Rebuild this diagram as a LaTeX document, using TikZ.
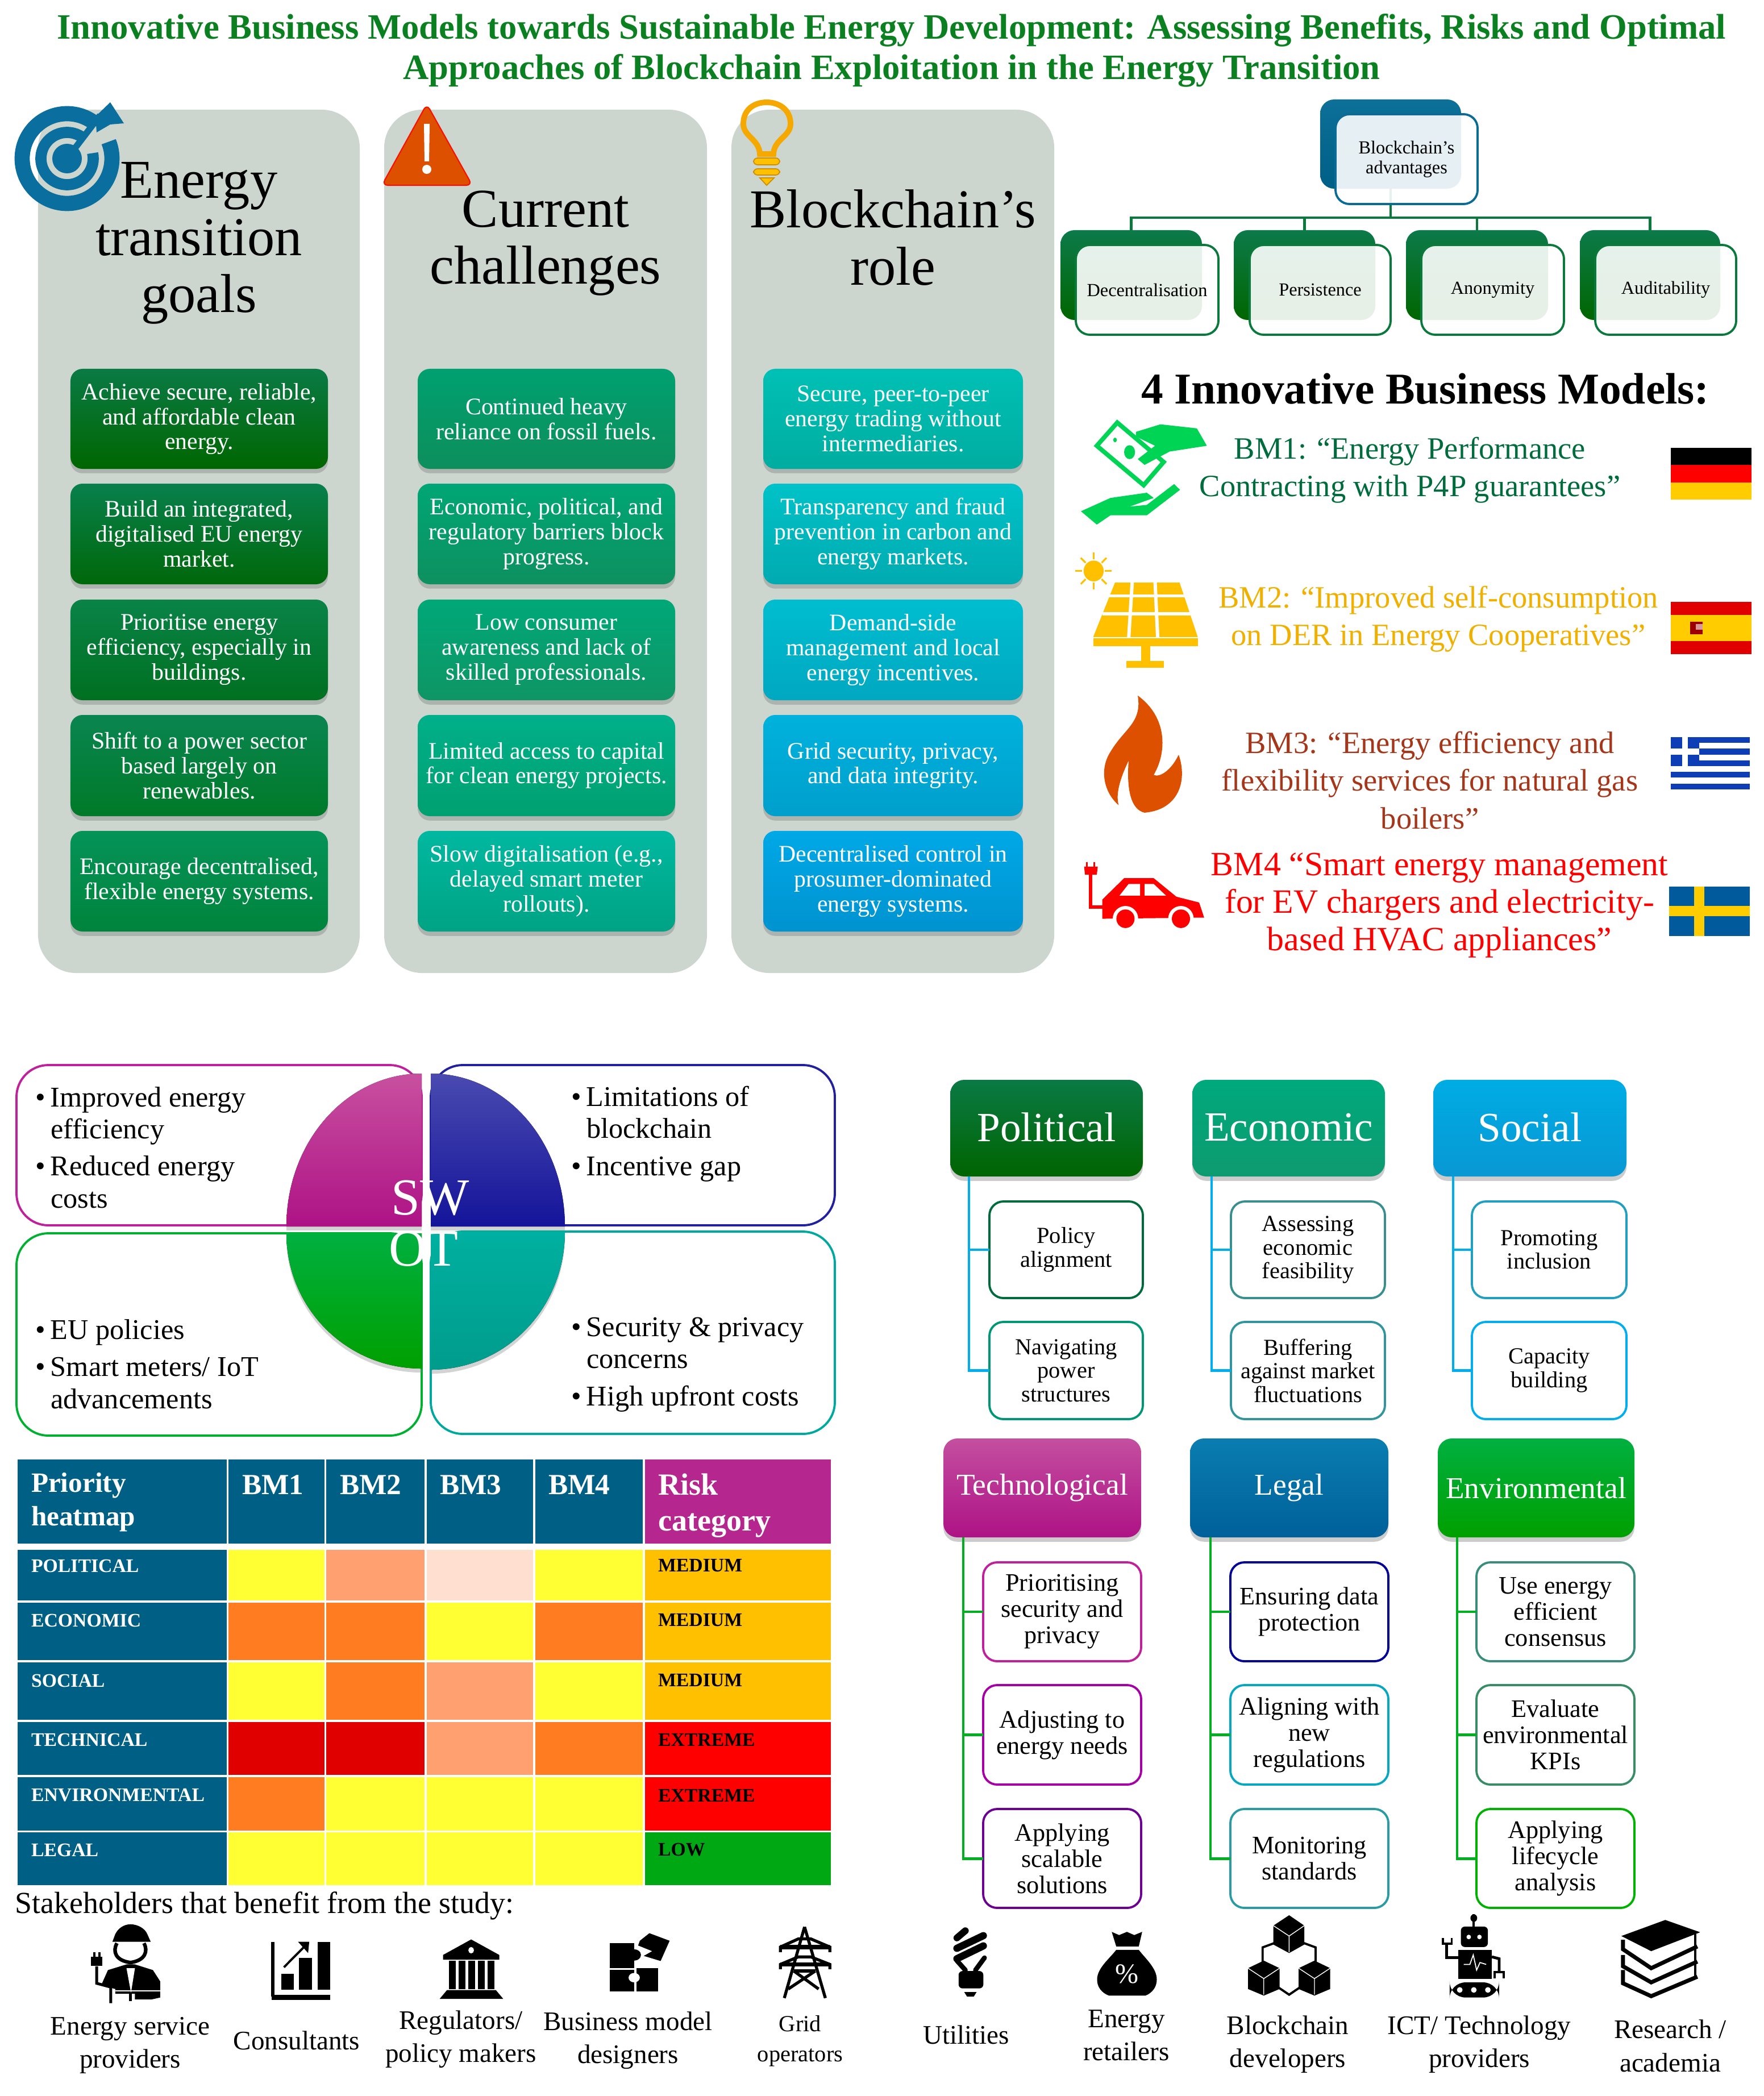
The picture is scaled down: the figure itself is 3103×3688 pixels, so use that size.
\documentclass[tikz,border=0pt]{standalone}
\usepackage{fontspec}
\setmainfont{Liberation Serif}
\usetikzlibrary{shadows,calc}
\newcommand\fs[2]{\fontsize{#1}{#2}\selectfont}
\newcommand\bx[7]{\pgfmathsetmacro\cxa{(#2+#4)/2}\pgfmathsetmacro\cya{(#3+#5)/2}\pgfmathsetmacro\wa{(#4-#2)*0.01}\pgfmathsetmacro\ha{(#5-#3)*0.01}\node[#6,minimum width=\wa cm,minimum height=\ha cm] (#1) at (\cxa,\cya) {#7};}
\newcommand\gbx[9]{\definecolor{gt}{HTML}{#7}\definecolor{gb}{HTML}{#8}\bx{#1}{#2}{#3}{#4}{#5}{#6,top color=gt,bottom color=gb}{#9}}
\definecolor{panel}{HTML}{CCD5CE}
\definecolor{titleg}{HTML}{0A8020}
\definecolor{hblue}{HTML}{005F85}
\definecolor{hmag}{HTML}{B5268F}
\definecolor{cyel}{HTML}{FFFF33}
\definecolor{clor}{HTML}{FFA070}
\definecolor{cpal}{HTML}{FFE0D0}
\definecolor{cor}{HTML}{FF7D20}
\definecolor{cdred}{HTML}{E00000}
\definecolor{cred}{HTML}{FF0000}
\definecolor{camb}{HTML}{FFC000}
\definecolor{cgrn}{HTML}{00A813}
\definecolor{ringb}{HTML}{0A6E9E}
\definecolor{warn}{HTML}{DD5000}
\definecolor{bulbc}{HTML}{F5A800}
\definecolor{mong}{HTML}{00D455}
\definecolor{bmone}{HTML}{006B3C}
\definecolor{bmtwo}{HTML}{F0B000}
\definecolor{bmthree}{HTML}{A5361A}
\definecolor{deyel}{HTML}{FFCC00}
\definecolor{seblue}{HTML}{005A9C}
\definecolor{grblue}{HTML}{0D3EB5}
\definecolor{conblue}{HTML}{00AEEF}
\definecolor{congreen}{HTML}{00B020}
\definecolor{orgg}{HTML}{0A7A3C}
\definecolor{orgb}{HTML}{0A6C96}
\definecolor{swt}{HTML}{00A99D}
\definecolor{swo}{HTML}{00B030}
\definecolor{sws}{HTML}{C0209A}
\definecolor{swoW}{HTML}{2020A0}
\tikzset{
  tile/.style={rounded corners=6pt,inner sep=2pt,outer sep=0pt,align=center,text=white,font=\fs{11.9}{12.5},
    drop shadow={shadow xshift=0pt,shadow yshift=-2.2pt,opacity=.4}},
  txt/.style={inner sep=0pt,outer sep=0pt,align=center},
  panelbox/.style={fill=panel,rounded corners=19pt,inner sep=0pt},
  heading/.style={txt,font=\fs{27.4}{28.6}},
  backbox/.style={rounded corners=7pt,inner sep=0pt,outer sep=0pt},
  frontbox/.style={rounded corners=7pt,inner sep=0pt,outer sep=0pt,draw,line width=1.1pt,fill=white,fill opacity=.9,text opacity=1,align=center,font=\fs{9.2}{10}},
  orgline/.style={draw=orgg,line width=1.4pt},
  bmtext/.style={txt,font=\fs{15.5}{18.8}},
  swotbox/.style={rounded corners=16pt,draw,line width=1.1pt,inner sep=0pt},
  swottext/.style={txt,align=left,font=\fs{14.3}{16}},
  swotletter/.style={txt,text=white,font=\fs{26}{26}},
  swotq/.style={drop shadow={shadow xshift=0pt,shadow yshift=-2pt,opacity=.35}},
  cell/.style={inner sep=0pt,outer sep=0pt},
  hhead/.style={txt,align=left,text=white,font=\bfseries\fs{14}{16.7}},
  hbm/.style={txt,anchor=west,text=white,font=\bfseries\fs{14.6}{16.7}},
  hrowtext/.style={txt,anchor=west,font=\bfseries\fs{9.6}{11}},
  head/.style={rounded corners=7pt,inner sep=0pt,outer sep=0pt,align=center,text=white,
    drop shadow={shadow xshift=0pt,shadow yshift=-2.2pt,opacity=.4}},
  headtop/.style={head,font=\fs{20.8}{22}},
  headbot/.style={head,font=\fs{15.2}{16}},
  sub/.style={rounded corners=7pt,draw,line width=1.1pt,fill=white,inner sep=0pt,outer sep=0pt,align=center},
  subtop/.style={sub,font=\fs{11.5}{11.8}},
  subbot/.style={sub,font=\fs{12.6}{13.1}},
  bluecon/.style={draw=conblue,line width=1.4pt},
  greencon/.style={draw=congreen,line width=1.4pt},
  stake/.style={txt,font=\fs{13.4}{16.6}},
  zb/.style={shift={(1850,150)},x=0.00799cm,y=-0.0102cm},
  zf/.style={shift={(0,3300)},x=0.00989cm,y=-0.00333cm},
  zs/.style={shift={(1550,3300)},x=0.0099cm,y=-0.00333cm},
}
\newcommand\hrow[9]{%
  \bx{#1a}{31}{#2}{399}{#3}{cell,fill=hblue}{}
  \bx{#1b}{402}{#2}{571}{#3}{cell,fill=#5}{}
  \bx{#1c}{574}{#2}{747}{#3}{cell,fill=#6}{}
  \bx{#1d}{751}{#2}{938}{#3}{cell,fill=#7}{}
  \bx{#1e}{942}{#2}{1131}{#3}{cell,fill=#8}{}
  \bx{#1f}{1135}{#2}{1462}{#3}{cell,fill=#9}{}
}
\begin{document}
\begin{tikzpicture}[x=0.01cm,y=-0.01cm]
\useasboundingbox (0,0) rectangle (3103,3688);
% title
\node[txt,text=titleg,font=\bfseries\fs{17.82}{20}] (title) at (1569,89) {Innovative Business Models towards Sustainable Energy Development: Assessing Benefits, Risks and Optimal\\Approaches of Blockchain Exploitation in the Energy Transition};
% panels
\bx{pa}{67}{193}{633}{1712}{panelbox}{}
\bx{pb}{676}{193}{1244}{1712}{panelbox}{}
\bx{pc}{1287}{193}{1855}{1712}{panelbox}{}
\node[heading] (ha) at (350,428) {Energy\\transition\\goals};
\node[heading] (hb) at (960,428) {Current\\challenges};
\node[heading] (hc) at (1571,418) {Blockchain’s\\role};
% target icon
\begin{scope}[shift={(118,279)},y=0.01cm]
\draw[ringb,line width=7.6pt] (52:79) arc[start angle=52,end angle=382,radius=79];
\draw[ringb,line width=5.6pt] (52:46) arc[start angle=52,end angle=372,radius=46];
\fill[ringb] (0,0) circle[radius=26];
\draw[ringb,line width=3.2pt] (0,0) -- (58,76);
\fill[ringb] (76,99) -- (100,62) -- (76,60) -- (52,46) -- (50,74) -- cycle;
\end{scope}
% warning icon
\fill[warn,draw=red!80!warn,line width=.6pt,rounded corners=3pt] (751,183) -- (831,326) -- (672,326) -- cycle;
\fill[white] (746,218) -- (756,218) -- (755,284) -- (747,284) -- cycle;
\fill[white] (751,298) circle[radius=8];
% bulb icon
\draw[bulbc,line width=2.8pt] (1337,271) .. controls (1336,245) and (1308,240) .. (1308,218) .. controls (1308,192) and (1328,180) .. (1349,180) .. controls (1370,180) and (1391,192) .. (1391,218) .. controls (1391,240) and (1362,245) .. (1361,271) -- cycle;
\fill[camb,draw=bulbc!85!black,line width=.5pt,rounded corners=2pt] (1326,278) rectangle (1372,290);
\fill[camb,draw=bulbc!85!black,line width=.5pt,rounded corners=2pt] (1326,297) rectangle (1372,308);
\fill[camb,draw=bulbc!85!black,line width=.5pt] (1337,313) -- (1362,313) -- (1349,326) -- cycle;
% column tiles
\gbx{a1}{124}{649}{577}{825}{tile}{0A7A45}{006600}{Achieve secure, reliable,\\and affordable clean\\energy.}
\gbx{a2}{124}{851}{577}{1028}{tile}{08804C}{00680A}{Build an integrated,\\digitalised EU energy\\market.}
\gbx{a3}{124}{1055}{577}{1232}{tile}{0A8348}{007020}{Prioritise energy\\efficiency, especially in\\buildings.}
\gbx{a4}{124}{1258}{577}{1436}{tile}{0A8550}{007A28}{Shift to a power sector\\based largely on\\renewables.}
\gbx{a5}{124}{1462}{577}{1639}{tile}{059358}{00843C}{Encourage decentralised,\\flexible energy systems.}
\gbx{b1}{735}{649}{1188}{825}{tile}{00A070}{0D8F5C}{Continued heavy\\reliance on fossil fuels.}
\gbx{b2}{735}{851}{1188}{1028}{tile}{00A675}{0E9060}{Economic, political, and\\regulatory barriers block\\progress.}
\gbx{b3}{735}{1055}{1188}{1232}{tile}{00A878}{0F9565}{Low consumer\\awareness and lack of\\skilled professionals.}
\gbx{b4}{735}{1258}{1188}{1436}{tile}{00B08A}{00A070}{Limited access to capital\\for clean energy projects.}
\gbx{b5}{735}{1462}{1188}{1639}{tile}{00B8A0}{00A384}{Slow digitalisation (e.g.,\\delayed smart meter\\rollouts).}
\gbx{c1}{1343}{649}{1800}{825}{tile}{00C0B5}{00ADA0}{Secure, peer-to-peer\\energy trading without\\intermediaries.}
\gbx{c2}{1343}{851}{1800}{1028}{tile}{00C2C8}{00ABB0}{Transparency and fraud\\prevention in carbon and\\energy markets.}
\gbx{c3}{1343}{1055}{1800}{1232}{tile}{00BDD0}{00A8C0}{Demand-side\\management and local\\energy incentives.}
\gbx{c4}{1343}{1258}{1800}{1436}{tile}{00B2DD}{009FCC}{Grid security, privacy,\\and data integrity.}
\gbx{c5}{1343}{1462}{1800}{1639}{tile}{00A8E6}{0093D0}{Decentralised control in\\prosumer-dominated\\energy systems.}
% org chart
\gbx{rootb}{2323}{175}{2571}{332}{backbox}{0C7098}{005F85}{}
\gbx{k1b}{1866}{405}{2115}{563}{backbox}{0C7A4A}{006600}{}
\gbx{k2b}{2171}{405}{2420}{563}{backbox}{0C7A4A}{006600}{}
\gbx{k3b}{2474}{405}{2724}{563}{backbox}{0C7A4A}{006600}{}
\gbx{k4b}{2780}{405}{3027}{563}{backbox}{0C7A4A}{006600}{}
\coordinate (bus) at (2447,383);
\draw[orgline] (rootb.south) -- (bus);
\draw[orgline] (bus) -| (k1b.north);
\draw[orgline] (bus) -| (k2b.north);
\draw[orgline] (bus) -| (k3b.north);
\draw[orgline] (bus) -| (k4b.north);
\bx{root}{2350}{201}{2600}{359}{frontbox,draw=orgb}{Blockchain’s\\advantages}
\bx{k1}{1893}{431}{2144}{589}{frontbox,draw=orgg}{Decentralisation}
\bx{k2}{2199}{431}{2447}{589}{frontbox,draw=orgg}{Persistence}
\bx{k3}{2501}{431}{2752}{589}{frontbox,draw=orgg}{Anonymity}
\bx{k4}{2807}{431}{3055}{589}{frontbox,draw=orgg}{Auditability}
% business models
\node[txt,font=\bfseries\fs{22}{24}] (bmtitle) at (2508,684) {4 Innovative Business Models:};
\node[bmtext,text=bmone] (bm1) at (2481,827) {BM1: “Energy Performance\\Contracting with P4P guarantees”};
\node[bmtext,text=bmtwo] (bm2) at (2531,1089) {BM2: “Improved self-consumption\\on DER in Energy Cooperatives”};
\node[bmtext,text=bmthree] (bm3) at (2516,1373) {BM3: “Energy efficiency and\\flexibility services for natural gas\\boilers”};
\node[bmtext,text=red,font=\fs{17}{18.8}] (bm4) at (2533,1593) {BM4 “Smart energy management\\for EV chargers and electricity-\\based HVAC appliances”};
% flags
\fill[black] (2940,788) rectangle (3082,818);
\fill[red] (2940,818) rectangle (3082,849);
\fill[deyel] (2940,849) rectangle (3082,879);
\fill[cdred] (2940,1059) rectangle (3082,1082);
\fill[deyel] (2940,1082) rectangle (3082,1128);
\fill[cdred] (2940,1128) rectangle (3082,1151);
\fill[cdred!70!black] (2974,1094) rectangle (2996,1116);
\fill[white,opacity=.6] (2984,1098) rectangle (2996,1108);
\fill[grblue] (2940,1297) rectangle (3079,1389);
\foreach \yy in {1307.2,1327.6,1348,1368.4} {\fill[white] (2940,\yy) rectangle (3079,\yy+10.2);}
\fill[grblue] (2940,1297) rectangle (2990,1348);
\fill[white] (2960,1297) rectangle (2970,1348);
\fill[white] (2940,1317) rectangle (2990,1328);
\fill[seblue] (2937,1560) rectangle (3079,1647);
\fill[deyel] (2981,1560) rectangle (2999,1647);
\fill[deyel] (2937,1594) rectangle (3079,1612);
% BM icons
\begin{scope}[zb]
\draw[mong,line width=2.2pt,line join=miter,fill=white] (100,622) -- (145,582) -- (247,650) -- (203,690) -- cycle;
\fill[mong] (172,633) circle[radius=12];
\fill[mong] (140,612) circle[radius=4];
\fill[mong] (186,598) -- (240,585) -- (320,592) -- (342,622) -- (260,632) -- (205,655) -- (190,645) -- (228,622) -- (186,606) -- cycle;
\fill[mong] (65,735) -- (130,712) -- (210,703) -- (225,712) -- (172,727) -- (210,724) -- (270,688) -- (283,698) -- (210,742) -- (130,742) -- (100,758) -- cycle;
% solar
\fill[camb] (93,838) circle[x radius=22,y radius=18];
\foreach \aa in {0,45,...,315} {\draw[camb,line width=.9pt] ($(93,838)+(\aa:25 and 20)$) -- ($(93,838)+(\aa:40 and 32)$);}
\fill[camb] (140,858) -- (282,858) -- (322,952) -- (92,952) -- cycle;
\foreach \xa/\xb in {178/170,228/234} {\draw[white,line width=1.7pt] (\xa,855) -- (\xb,955);}
\draw[white,line width=1.5pt] (125,881) -- (295,881);
\draw[white,line width=1.5pt] (112,912) -- (310,912);
\fill[camb] (92,954) rectangle (322,968);
\fill[camb] (197,968) rectangle (217,993);
\fill[camb] (165,993) rectangle (248,1005);
% flame
\fill[warn] (190,1053) .. controls (255,1090) and (255,1150) .. (225,1190) .. controls (240,1195) and (265,1180) .. (280,1155) .. controls (300,1200) and (280,1250) .. (205,1255) .. controls (175,1250) and (165,1215) .. (170,1165) .. controls (155,1190) and (140,1220) .. (148,1242) .. controls (115,1220) and (105,1180) .. (130,1150) .. controls (160,1110) and (200,1100) .. (190,1053) -- cycle;
% car
\fill[red] (112,1405) -- (160,1368) -- (225,1368) -- (275,1400) -- (325,1410) -- (336,1436) -- (112,1438) -- cycle;
\fill[white] (150,1398) -- (170,1378) -- (195,1378) -- (195,1398) -- cycle;
\fill[white] (205,1378) -- (225,1378) -- (252,1398) -- (205,1398) -- cycle;
\fill[white] (163,1438) circle[x radius=28,y radius=22];
\fill[white] (285,1438) circle[x radius=28,y radius=22];
\fill[red] (163,1438) circle[x radius=20,y radius=16];
\fill[red] (285,1438) circle[x radius=20,y radius=16];
\draw[red,line width=1.7pt] (86,1362) -- (86,1418) -- (115,1418);
\fill[red] (72,1348) -- (102,1348) -- (100,1362) -- (74,1362) -- cycle;
\draw[red,line width=.9pt] (78,1340) -- (78,1350);
\draw[red,line width=.9pt] (94,1340) -- (94,1350);
\end{scope}
% SWOT
\bx{sbx}{29}{1874}{742}{2156}{swotbox,draw=sws}{}
\bx{wbx}{758}{1874}{1469}{2156}{swotbox,draw=swoW}{}
\bx{obx}{29}{2170}{742}{2526}{swotbox,draw=swo}{}
\bx{tbx}{758}{2167}{1469}{2523}{swotbox,draw=swt}{}
\definecolor{qa}{HTML}{C850A0}\definecolor{qb}{HTML}{AE1285}
\fill[swotq,top color=qa,bottom color=qb] (742,2158) -- (742,1889) .. controls (610,1889) and (504,2009) .. (504,2158) -- cycle;
\definecolor{qa}{HTML}{4A4AB0}\definecolor{qb}{HTML}{14149A}
\fill[swotq,top color=qa,bottom color=qb] (758,2158) -- (758,1889) .. controls (890,1889) and (994,2009) .. (994,2158) -- cycle;
\definecolor{qa}{HTML}{00B040}\definecolor{qb}{HTML}{00A000}
\fill[swotq,top color=qa,bottom color=qb] (742,2170) -- (742,2408) .. controls (610,2408) and (504,2302) .. (504,2170) -- cycle;
\definecolor{qa}{HTML}{00B0A0}\definecolor{qb}{HTML}{009C8C}
\fill[swotq,top color=qa,bottom color=qb] (758,2167) -- (758,2410) .. controls (890,2410) and (994,2302) .. (994,2167) -- cycle;
\node[swotletter] (sw) at (757,2108) {SW};
\node[swotletter] (ot) at (745,2198) {OT};
\node[swottext,anchor=west] (slist) at (89,2019) {\llap{•\hspace{2.5pt}}Improved energy\\efficiency\\[2.6pt]\llap{•\hspace{2.5pt}}Reduced energy\\costs};
\node[swottext,anchor=west] (wlist) at (1032,1995) {\llap{•\hspace{2.5pt}}Limitations of\\blockchain\\[2.6pt]\llap{•\hspace{2.5pt}}Incentive gap};
\node[swottext,anchor=west] (olist) at (89,2400) {\llap{•\hspace{2.5pt}}EU policies\\[2.6pt]\llap{•\hspace{2.5pt}}Smart meters/ IoT\\advancements};
\node[swottext,anchor=west] (tlist) at (1032,2401) {\llap{•\hspace{2.5pt}}Security \& privacy\\concerns\\[2.6pt]\llap{•\hspace{2.5pt}}High upfront costs};
% heat map
\bx{h1}{31}{2568}{399}{2716}{cell,fill=hblue}{}
\bx{h2}{402}{2568}{571}{2716}{cell,fill=hblue}{}
\bx{h3}{574}{2568}{747}{2716}{cell,fill=hblue}{}
\bx{h4}{751}{2568}{938}{2716}{cell,fill=hblue}{}
\bx{h5}{942}{2568}{1131}{2716}{cell,fill=hblue}{}
\bx{h6}{1135}{2568}{1462}{2716}{cell,fill=hmag}{}
\node[hhead,anchor=west] (th1) at (55,2643) {Priority\\heatmap};
\node[hbm] (th2) at (426,2613) {BM1};
\node[hbm] (th3) at (598,2613) {BM2};
\node[hbm] (th4) at (774,2613) {BM3};
\node[hbm] (th5) at (965,2613) {BM4};
\node[hhead,anchor=west,font=\bfseries\fs{15.4}{18}] (th6) at (1158,2649) {Risk\\category};
\hrow{ra}{2727}{2816}{}{cyel}{clor}{cpal}{cyel}{camb}
\hrow{rb}{2820}{2921}{}{cor}{cor}{cyel}{cor}{camb}
\hrow{rc}{2925}{3026}{}{cyel}{cor}{clor}{cyel}{camb}
\hrow{rd}{3030}{3123}{}{cdred}{cdred}{clor}{cor}{cred}
\hrow{re}{3127}{3221}{}{cor}{cyel}{cyel}{cyel}{cred}
\hrow{rf}{3224}{3317}{}{cyel}{cyel}{cyel}{cyel}{cgrn}
\node[hrowtext,text=white] (la) at (55,2755) {POLITICAL};
\node[hrowtext,text=white] (lb) at (55,2851) {ECONOMIC};
\node[hrowtext,text=white] (lc) at (55,2957) {SOCIAL};
\node[hrowtext,text=white] (ld) at (55,3061) {TECHNICAL};
\node[hrowtext,text=white] (le) at (55,3159) {ENVIRONMENTAL};
\node[hrowtext,text=white] (lf) at (55,3255) {LEGAL};
\node[hrowtext] (va) at (1158,2755) {MEDIUM};
\node[hrowtext] (vb) at (1158,2851) {MEDIUM};
\node[hrowtext] (vc) at (1158,2957) {MEDIUM};
\node[hrowtext] (vd) at (1158,3061) {EXTREME};
\node[hrowtext] (ve) at (1158,3159) {EXTREME};
\node[hrowtext] (vf) at (1158,3255) {LOW};
% PESTEL top
\gbx{pol}{1672}{1900}{2011}{2070}{headtop}{0A7A45}{006400}{\raisebox{1.2pt}{Political}}
\gbx{eco}{2098}{1900}{2437}{2070}{headtop}{00A97C}{0E9A70}{\raisebox{1.2pt}{Economic}}
\gbx{soc}{2522}{1900}{2862}{2070}{headtop}{00ACE4}{0898D4}{\raisebox{1.2pt}{Social}}
\bx{pola}{1741}{2114}{2011}{2284}{subtop,draw=bmone}{Policy\\alignment}
\bx{polb}{1741}{2326}{2011}{2497}{subtop,draw=bmone!70!cyan}{Navigating\\power\\structures}
\bx{ecoa}{2166}{2114}{2437}{2284}{subtop,draw=black!0!cyan!60!green!70!black}{Assessing\\economic\\feasibility}
\bx{ecob}{2166}{2326}{2437}{2497}{subtop,draw=cyan!70!green!75!black}{Buffering\\against market\\fluctuations}
\bx{soca}{2590}{2114}{2862}{2284}{subtop,draw=cyan!85!green!85!black}{Promoting\\inclusion}
\bx{socb}{2590}{2326}{2862}{2497}{subtop,draw=conblue}{Capacity\\building}
\draw[bluecon] ($(pol.south west)+(33,0)$) |- (pola.west);
\draw[bluecon] ($(pol.south west)+(33,0)$) |- (polb.west);
\draw[bluecon] ($(eco.south west)+(34,0)$) |- (ecoa.west);
\draw[bluecon] ($(eco.south west)+(34,0)$) |- (ecob.west);
\draw[bluecon] ($(soc.south west)+(35,0)$) |- (soca.west);
\draw[bluecon] ($(soc.south west)+(35,0)$) |- (socb.west);
% PESTEL bottom
\gbx{tec}{1660}{2531}{2008}{2705}{headbot}{C44FA0}{AE1285}{Technological}
\gbx{leg}{2094}{2531}{2443}{2705}{headbot}{0A7DB0}{00609A}{Legal}
\gbx{env}{2530}{2531}{2876}{2705}{headbot}{00B040}{00A000}{Environmental}
\bx{teca}{1730}{2749}{2008}{2923}{subbot,draw=sws}{Prioritising\\security and\\privacy}
\bx{tecb}{1730}{2965}{2008}{3140}{subbot,draw=violet!70!magenta}{Adjusting to\\energy needs}
\bx{tecc}{1730}{3183}{2008}{3357}{subbot,draw=violet!85!blue}{Applying\\scalable\\solutions}
\bx{lega}{2165}{2749}{2443}{2923}{subbot,draw=blue!60!black}{Ensuring data\\protection}
\bx{legb}{2165}{2965}{2443}{3140}{subbot,draw=orgb!60!cyan}{Aligning with\\new\\regulations}
\bx{legc}{2165}{3183}{2443}{3357}{subbot,draw=cyan!70!green!80!black}{Monitoring\\standards}
\bx{enva}{2598}{2749}{2876}{2923}{subbot,draw=cyan!40!green!70!black}{Use energy\\efficient\\consensus}
\bx{envb}{2598}{2965}{2876}{3140}{subbot,draw=cyan!20!green!70!black}{Evaluate\\environmental\\KPIs}
\bx{envc}{2598}{3183}{2876}{3357}{subbot,draw=green!70!black}{Applying\\lifecycle\\analysis}
\draw[greencon] ($(tec.south west)+(35,0)$) |- (teca.west);
\draw[greencon] ($(tec.south west)+(35,0)$) |- (tecb.west);
\draw[greencon] ($(tec.south west)+(35,0)$) |- (tecc.west);
\draw[greencon] ($(leg.south west)+(36,0)$) |- (lega.west);
\draw[greencon] ($(leg.south west)+(36,0)$) |- (legb.west);
\draw[greencon] ($(leg.south west)+(36,0)$) |- (legc.west);
\draw[greencon] ($(env.south west)+(34,0)$) |- (enva.west);
\draw[greencon] ($(env.south west)+(34,0)$) |- (envb.west);
\draw[greencon] ($(env.south west)+(34,0)$) |- (envc.west);
% stakeholders
\node[txt,anchor=west,font=\fs{15.3}{17}] (stk) at (27,3353) {Stakeholders that benefit from the study:};
\node[stake] (s1) at (229,3599) {Energy service\\providers};
\node[stake] (s2) at (522,3590) {Consultants};
\node[stake] (s3) at (811,3588) {Regulators/\\policy makers};
\node[stake] (s4) at (1105,3590) {Business model\\designers};
\node[stake,font=\fs{11.5}{15}] (s5) at (1408,3591) {Grid\\operators};
\node[stake] (s6) at (1700,3580) {Utilities};
\node[stake] (s7) at (1982,3581) {Energy\\retailers};
\node[stake] (s8) at (2266,3597) {Blockchain\\developers};
\node[stake] (s9) at (2603,3597) {ICT/ Technology\\providers};
\node[stake] (s10) at (2939,3600) {Research /\\academia};
% stakeholder icons, left
\begin{scope}[zf]
% engineer
\fill (200,350) -- (205,310) .. controls (210,280) and (220,258) .. (232,258) .. controls (245,258) and (258,280) .. (262,310) -- (268,350) -- cycle;
\draw[line width=1.8pt] (208,358) .. controls (200,400) and (205,450) .. (232,460) .. controls (258,450) and (264,400) .. (256,358);
\fill (192,500) -- (225,470) -- (240,470) -- (272,500) -- (285,560) -- (285,645) -- (270,655) -- (240,655) -- (240,625) -- (205,625) -- (205,600) -- (180,580) -- cycle;
\fill[white] (225,490) -- (240,490) -- (233,620) -- cycle;
\draw[white,line width=.7pt] (205,610) -- (285,610);
\draw[line width=1.2pt] (232,625) -- (232,665);
\draw[line width=1.4pt] (172,480) -- (172,570) -- (197,590) -- (197,675);
\fill (162,430) rectangle (182,478);
\fill (166,405) rectangle (170,430);
\fill (175,405) rectangle (179,430);
% chart
\draw[line width=1.6pt] (485,350) -- (485,640);
\fill (483,632) rectangle (587,658);
\fill (500,520) rectangle (523,605);
\fill (532,437) rectangle (555,605);
\fill (565,350) rectangle (587,605);
\draw[line width=1.1pt] (505,485) -- (545,365);
\fill (530,350) -- (550,350) -- (548,410) -- cycle;
% bank
\fill (838,338) -- (888,420) -- (888,445) -- (788,445) -- (788,420) -- cycle;
\fill[white] (838,395) circle[x radius=5,y radius=17];
\foreach \xc in {805,822,839,856,873} {\fill (\xc-6,452) rectangle (\xc+6,600);}
\fill (795,606) -- (882,606) -- (895,652) -- (782,652) -- cycle;
% puzzle
\fill (1085,358) rectangle (1128,490);
\fill (1085,500) rectangle (1128,612);
\fill (1132,490) rectangle (1170,612);
\fill[white] (1128,540) circle[x radius=10,y radius=25];
\fill (1138,345) -- (1155,305) -- (1191,345) -- (1175,452) -- (1145,425) -- (1160,400) -- (1135,370) -- cycle;
\fill (1128,420) circle[x radius=12,y radius=30];
% pylon
\begin{scope}[line width=1.5pt]
\draw (1431,272) -- (1395,648);
\draw (1431,272) -- (1468,648);
\draw[line width=2.2pt] (1388,378) -- (1476,378);
\draw[line width=2.2pt] (1388,470) -- (1476,470);
\draw (1388,405) -- (1388,378) -- (1420,335) -- (1442,335) -- (1476,378) -- (1476,405);
\draw (1388,495) -- (1388,470) -- (1420,430) -- (1442,430) -- (1476,470) -- (1476,495);
\draw (1412,505) -- (1456,600);
\draw (1450,505) -- (1402,600);
\draw (1412,505) -- (1450,505);
\end{scope}
\end{scope}
% stakeholder icons, right
\begin{scope}[zs]
% bulb
\draw[line width=3.4pt,line cap=round] (135,330) -- (150,292);
\draw[line width=3.6pt,line cap=round] (135,385) -- (182,318);
\draw[line width=3.6pt,line cap=round] (135,440) -- (182,372);
\draw[line width=2.4pt,line cap=round] (150,500) -- (135,450);
\draw[line width=2.4pt,line cap=round] (168,500) -- (184,435);
\fill[rounded corners=2pt] (138,505) rectangle (182,597);
\fill (148,616) -- (170,616) -- (165,640) -- (153,640) -- cycle;
% bag
\fill (410,298) -- (423,315) -- (437,298) -- (450,315) -- (464,298) -- (458,375) -- (418,375) -- cycle;
\fill (418,393) -- (458,393) .. controls (470,440) and (490,490) .. (490,550) .. controls (490,590) and (482,620) .. (470,635) -- (405,635) .. controls (392,620) and (384,590) .. (384,550) .. controls (384,490) and (406,440) .. (418,393) -- cycle;
\node[txt,text=white,font=\fs{14}{14}] (pct) at (437,520) {\%};
% blockchain
\fill (725,210) -- (752,265) -- (752,365) -- (725,410) -- (697,365) -- (697,265) -- cycle;
\fill (680,450) -- (708,490) -- (708,600) -- (680,635) -- (652,600) -- (652,490) -- cycle;
\fill (770,450) -- (798,490) -- (798,600) -- (770,635) -- (742,600) -- (742,490) -- cycle;
\draw[white,line width=.4pt] (697,265) -- (725,320) -- (752,265) (725,320) -- (725,405);
\draw[white,line width=.4pt] (652,490) -- (680,545) -- (708,490) (680,545) -- (680,630);
\draw[white,line width=.4pt] (742,490) -- (770,545) -- (798,490) (770,545) -- (770,630);
\draw[line width=1.1pt] (710,345) -- (678,380) -- (678,470);
\draw[line width=1.1pt] (740,345) -- (772,380) -- (772,470);
\draw[line width=1.1pt] (695,570) -- (725,630) -- (755,570);
% robot
\draw[line width=1.2pt] (1053,205) -- (1053,270);
\fill (1053,225) circle[x radius=6,y radius=20];
\fill[rounded corners=2pt] (1030,270) rectangle (1078,378);
\fill[white] (1044,325) circle[x radius=4,y radius=12];
\fill[white] (1063,325) circle[x radius=4,y radius=12];
\fill (1025,395) rectangle (1085,548);
\draw[white,line width=.5pt] (1035,470) -- (1046,470) -- (1052,420) -- (1058,500) -- (1064,460) -- (1075,470);
\draw[line width=1.4pt] (1025,435) -- (1005,435) -- (1005,360);
\draw[line width=1pt] (998,330) -- (998,360) -- (1014,360) -- (1014,330);
\draw[line width=1.4pt] (1085,430) -- (1098,440) -- (1098,510);
\draw[line width=1pt] (1090,545) -- (1090,510) -- (1106,510) -- (1106,545);
\fill[rounded corners=8pt] (1010,565) rectangle (1098,645);
\fill[white] (1028,605) circle[x radius=5,y radius=15];
\fill[white] (1053,605) circle[x radius=5,y radius=15];
\fill[white] (1078,605) circle[x radius=5,y radius=15];
% books
\fill (1393,235) -- (1455,300) -- (1368,400) -- (1315,320) -- cycle;
\draw[line width=2pt] (1318,340) -- (1318,390) -- (1368,490) -- (1450,375);
\draw[line width=2pt] (1318,420) -- (1318,480) -- (1368,565) -- (1450,455);
\draw[line width=2pt] (1318,500) -- (1318,570) -- (1368,638) -- (1450,535);
\draw[line width=1pt] (1446,310) -- (1446,535);
\end{scope}
\end{tikzpicture}
\end{document}
